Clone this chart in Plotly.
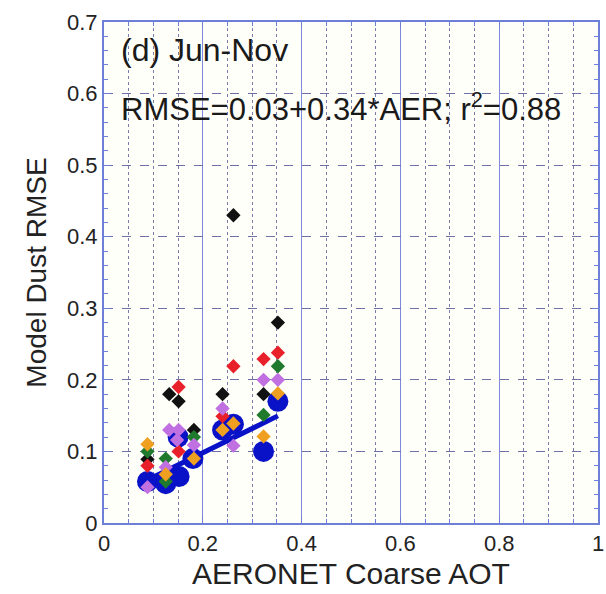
import plotly.graph_objects as go

# ---- data ----
station_x = [0.088, 0.125, 0.152, 0.150, 0.180, 0.240, 0.262, 0.323, 0.352]
mean_rmse = [0.058, 0.055, 0.065, 0.120, 0.090, 0.130, 0.138, 0.100, 0.170]

black_x = [0.088, 0.132, 0.151, 0.182, 0.240, 0.262, 0.323, 0.352]
black_y = [0.089, 0.180, 0.170, 0.130, 0.180, 0.430, 0.180, 0.280]
red_x = [0.088, 0.151, 0.151, 0.240, 0.262, 0.323, 0.352]
red_y = [0.080, 0.190, 0.100, 0.149, 0.219, 0.229, 0.238]
green_x = [0.088, 0.125, 0.125, 0.182, 0.323, 0.352]
green_y = [0.100, 0.090, 0.058, 0.120, 0.151, 0.219]
purple_x = [0.088, 0.125, 0.132, 0.151, 0.148, 0.182, 0.240, 0.262, 0.323, 0.352]
purple_y = [0.050, 0.078, 0.130, 0.130, 0.116, 0.109, 0.160, 0.108, 0.200, 0.200]
orange_x = [0.088, 0.125, 0.182, 0.240, 0.262, 0.323, 0.352]
orange_y = [0.110, 0.068, 0.090, 0.130, 0.139, 0.121, 0.181]

fit_intercept = 0.03
fit_slope = 0.34
fit_r2 = 0.88
fit_x = [min(station_x), max(station_x)]
fit_y = [fit_intercept + fit_slope * v for v in fit_x]

x_ticks = [0, 0.2, 0.4, 0.6, 0.8, 1]
x_tick_labels = ["0", "0.2", "0.4", "0.6", "0.8", "1"]
y_ticks = [0, 0.1, 0.2, 0.3, 0.4, 0.5, 0.6, 0.7]
y_tick_labels = ["0", "0.1", "0.2", "0.3", "0.4", "0.5", "0.6", "0.7"]

FONT = "Liberation Sans, Arial, sans-serif"
BLUE = "#0a12c8"

fig = go.Figure()
fig.add_trace(go.Scatter(x=station_x, y=mean_rmse, mode="markers",
                         marker=dict(symbol="circle", size=21, color=BLUE),
                         showlegend=False, hoverinfo="skip"))
fig.add_trace(go.Scatter(x=fit_x, y=fit_y, mode="lines",
                         line=dict(color=BLUE, width=5),
                         showlegend=False, hoverinfo="skip"))
for xs, ys, col in [(black_x, black_y, "#111111"),
                    (red_x, red_y, "#e8202a"),
                    (green_x, green_y, "#1f7a2e"),
                    (purple_x, purple_y, "#c070e0"),
                    (orange_x, orange_y, "#f0a020")]:
    fig.add_trace(go.Scatter(x=xs, y=ys, mode="markers",
                             marker=dict(symbol="diamond", size=11, color=col),
                             showlegend=False, hoverinfo="skip"))

fig.add_annotation(x=0.03, y=0.661, xref="x", yref="y", text="(d) Jun-Nov",
                   showarrow=False, xanchor="left", yanchor="middle",
                   font=dict(family=FONT, size=32, color="#1a1a1a"))
fig.add_annotation(x=0.03, y=0.581, xref="x", yref="y",
                   text="RMSE=0.03+0.34*AER; r<sup>2</sup>=0.88",
                   showarrow=False, xanchor="left", yanchor="middle",
                   font=dict(family=FONT, size=31, color="#1a1a1a"))

axis_line = "#6e7fd8"
fig.update_layout(
    width=606, height=594,
    margin=dict(l=104, r=2, t=22, b=71),
    paper_bgcolor="white", plot_bgcolor="#fffffa",
    font=dict(family=FONT, color="#222222"),
    xaxis=dict(range=[0, 1], tickvals=x_ticks, ticktext=x_tick_labels,
               tickfont=dict(size=22), ticks="inside", ticklen=6, tickcolor=axis_line,
               ticklabeloverflow="allow",
               showline=True, linecolor=axis_line, linewidth=2, mirror="ticks",
               showgrid=True, gridcolor="#7f88dc", gridwidth=1.2,
               zeroline=False,
               minor=dict(dtick=0.05, showgrid=True, griddash="dot",
                          gridcolor="#7c7ca8", gridwidth=1.2,
                          ticks="inside", ticklen=4, tickcolor=axis_line),
               title=dict(text="AERONET Coarse AOT", font=dict(size=30), standoff=8)),
    yaxis=dict(range=[0, 0.7], tickvals=y_ticks, ticktext=y_tick_labels,
               tickfont=dict(size=22), ticks="inside", ticklen=6, tickcolor=axis_line,
               showline=True, linecolor=axis_line, linewidth=2, mirror="ticks",
               showgrid=True, gridcolor="#6f6fa8", griddash="dash", gridwidth=1.2,
               zeroline=False,
               minor=dict(dtick=0.02, showgrid=False,
                          ticks="inside", ticklen=4, tickcolor=axis_line),
               title=dict(text="Model Dust RMSE", font=dict(size=28), standoff=12)),
)

fig.write_html("out.html")
